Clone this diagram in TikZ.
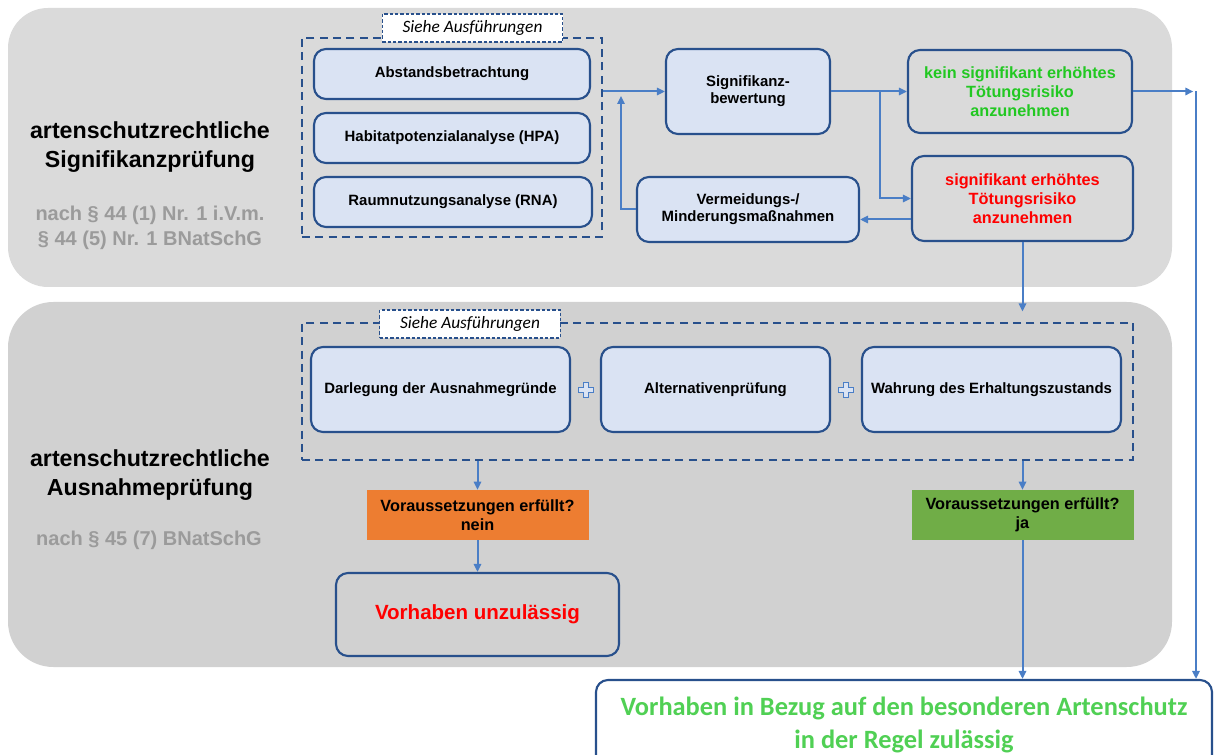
\documentclass[tikz,border=0pt]{standalone}
\usepackage{fontspec}
\setmainfont{Liberation Sans}
\newfontfamily\calfont{Carlito}
\usetikzlibrary{arrows.meta}
\definecolor{panelA}{RGB}{218,218,218}
\definecolor{panelB}{RGB}{209,209,209}
\definecolor{boxfill}{RGB}{218,227,243}
\definecolor{boxdraw}{RGB}{40,80,140}
\definecolor{arrowc}{RGB}{74,126,198}
\definecolor{lawgray}{RGB}{155,155,155}
\definecolor{okgreen}{RGB}{34,200,34}
\definecolor{endgreen}{RGB}{80,208,84}
\definecolor{condorange}{RGB}{237,125,49}
\definecolor{condgreen}{RGB}{112,173,71}

\begin{document}
\begin{tikzpicture}[x=0.75pt, y=-0.75pt, >={Triangle[length=6pt,width=5.5pt]}, every node/.style={font=\bfseries}]
\tikzset{
  box/.style={draw=boxdraw, line width=1.6pt, rounded corners=9pt, inner sep=0pt, align=center, font=\bfseries\fontsize{11.2}{12.8}\selectfont},
  bluebox/.style={box, fill=boxfill},
  riskbox/.style={box, font=\bfseries\fontsize{12.2}{14.2}\selectfont},
  cond/.style={inner sep=0pt, align=center, minimum width=166.5pt, minimum height=37.5pt, font=\bfseries\fontsize{12.2}{14}\selectfont},
  grp/.style={draw=boxdraw, dash pattern=on 6pt off 4pt, line width=1.3pt, inner sep=0pt},
  seelabel/.style={draw=boxdraw, fill=white, dash pattern=on 2.5pt off 1.5pt, line width=0.8pt, inner sep=0pt, minimum width=135.5pt, minimum height=21pt, font=\calfont\itshape\fontsize{13}{15}\selectfont},
  flow/.style={->, draw=arrowc, line width=1.5pt},
  head/.style={align=center, font=\bfseries\fontsize{17.4}{21.75}\selectfont},
  legal/.style={align=center, text=lawgray, font=\bfseries\fontsize{15}{18.75}\selectfont}
}
\useasboundingbox (0,0) rectangle (1214,755);
\clip (0,0) rectangle (1214,755);
\fill[panelA, rounded corners=30pt] (8,8) rectangle (1172,287);
\fill[panelB, rounded corners=34pt] (8,302) rectangle (1172,667);
\node[head] (hA) at (150,147) {artenschutzrechtliche\\Signifikanzprüfung};
\node[legal] (lA) at (150,228) {nach § 44 (1) Nr. 1 i.V.m.\\§ 44 (5) Nr. 1 BNatSchG};
\node[head] (hB) at (150,475) {artenschutzrechtliche\\Ausnahmeprüfung};
\node[legal] (lB) at (149,540) {nach § 45 (7) BNatSchG};
\node[grp, minimum width=225pt, minimum height=149.25pt] (grpA) at (452,137.5) {};
\node[seelabel] (seeA) at (472.5,28) {Siehe Ausführungen};
\node[bluebox, minimum width=207pt, minimum height=37.5pt] (Abst) at (452,74) {Abstandsbetrachtung};
\node[bluebox, minimum width=207pt, minimum height=37.5pt] (HPA) at (452,138) {Habitatpotenzialanalyse (HPA)};
\node[bluebox, minimum width=208.5pt, minimum height=37.5pt] (RNA) at (453,202) {Raumnutzungsanalyse (RNA)};
\node[bluebox, minimum width=123pt, minimum height=63.75pt] (Sig) at (748,91.5) {Signifikanz-\\bewertung};
\node[riskbox, text=okgreen, minimum width=168pt, minimum height=62.25pt] (kein) at (1020,91.5) {kein signifikant erhöhtes\\Tötungsrisiko\\anzunehmen};
\node[riskbox, text=red, minimum width=165.75pt, minimum height=63.75pt] (sigrot) at (1022.5,198.5) {signifikant erhöhtes\\Tötungsrisiko\\anzunehmen};
\node[bluebox, minimum width=166.5pt, minimum height=48.75pt] (Verm) at (748,209.5) {Vermeidungs-/\\Minderungsmaßnahmen};
\node[grp, minimum width=623.25pt, minimum height=102.75pt] (grpB) at (717.5,391.5) {};
\node[seelabel] (seeB) at (470,324) {Siehe Ausführungen};
\node[bluebox, minimum width=194.25pt, minimum height=63.75pt] (Darl) at (440.5,389.5) {Darlegung der Ausnahmegründe};
\node[bluebox, minimum width=171.75pt, minimum height=63.75pt] (Alt) at (715.5,389.5) {Alternativenprüfung};
\node[bluebox, minimum width=194.25pt, minimum height=63.75pt] (Wahr) at (991.5,389.5) {Wahrung des Erhaltungszustands};
\foreach \px in {586,846}
  \draw[draw=arrowc, fill=boxfill, line width=0.8pt, shift={(\px,390)}] (-2.5,-7.5) -- (2.5,-7.5) -- (2.5,-2.5) -- (7.5,-2.5) -- (7.5,2.5) -- (2.5,2.5) -- (2.5,7.5) -- (-2.5,7.5) -- (-2.5,2.5) -- (-7.5,2.5) -- (-7.5,-2.5) -- (-2.5,-2.5) -- cycle;
\node[cond, fill=condorange] (nein) at (477.5,515) {Voraussetzungen erfüllt?\\nein};
\node[cond, fill=condgreen] (ja) at (1022.5,515) {Voraussetzungen erfüllt?\\ja};
\node[box, text=red, minimum width=212.25pt, minimum height=62.25pt, font=\bfseries\fontsize{15.4}{18}\selectfont] (unzul) at (477.5,614.5) {Vorhaben unzulässig};
\node[box, fill=white, text=endgreen, minimum width=462pt, minimum height=67.5pt, font=\calfont\bfseries\fontsize{19.8}{25}\selectfont] (final) at (904,725) {Vorhaben in Bezug auf den besonderen Artenschutz\\in der Regel zulässig};
\coordinate (fb) at (621,96);
\coordinate (br) at (880,91.5);
\coordinate (cr) at (1196,91.5);
\coordinate (vmE) at ([yshift=-7.5pt]Verm.east);
\draw[flow] (Sig.west -| grpA.east) -- (Sig.west);
\draw[flow] (Verm.west) -| (fb);
\draw[flow] (Sig.east) -- (kein.west);
\draw[flow] (br) |- (sigrot.west);
\draw[flow] (vmE -| sigrot.west) -- (vmE);
\draw[flow, shorten >=2pt] (kein.east) -- (cr);
\draw[flow] (cr) -- (cr |- final.north);
\draw[flow, shorten >=8pt] (sigrot.south) -- (sigrot.south |- grpB.north);
\draw[flow] (grpB.south -| nein.north) -- (nein.north);
\draw[flow] (grpB.south -| ja.north) -- (ja.north);
\draw[flow] (nein.south) -- (unzul.north);
\draw[flow] (ja.south) -- (ja.south |- final.north);
\end{tikzpicture}
\end{document}
